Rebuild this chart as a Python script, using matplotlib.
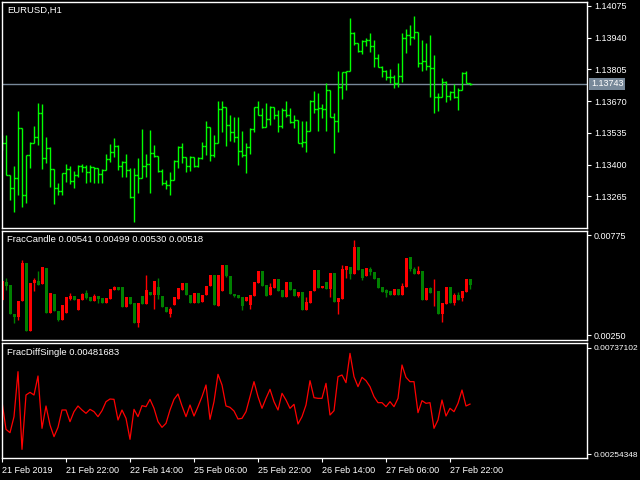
import matplotlib
matplotlib.use("Agg")
import matplotlib.pyplot as plt
import numpy as np

plt.rcParams['font.family'] = ['Liberation Sans', 'DejaVu Sans']
plt.rcParams['font.size'] = 6.5

# EURUSD H1 bars (open, high, low, close)
bar_open = [1.13492, 1.13492, 1.13355, 1.13300, 1.13343, 1.13556, 1.13270, 1.13440, 1.13492, 1.13517,
            1.13620, 1.13428, 1.13470, 1.13381, 1.13300, 1.13287, 1.13364, 1.13381, 1.13330, 1.13355,
            1.13394, 1.13389, 1.13368, 1.13389, 1.13385, 1.13360, 1.13377, 1.13424, 1.13453, 1.13479,
            1.13394, 1.13411, 1.13377, 1.13262, 1.13355, 1.13343, 1.13394, 1.13402, 1.13449, 1.13436,
            1.13372, 1.13321, 1.13313, 1.13334, 1.13415, 1.13475, 1.13432, 1.13394, 1.13432, 1.13394,
            1.13428, 1.13479, 1.13560, 1.13440, 1.13492, 1.13637, 1.13645, 1.13568, 1.13539, 1.13517,
            1.13458, 1.13440, 1.13475, 1.13551, 1.13645, 1.13611, 1.13560, 1.13594, 1.13645, 1.13611,
            1.13564, 1.13632, 1.13611, 1.13581, 1.13590, 1.13492, 1.13496, 1.13543, 1.13671, 1.13637,
            1.13641, 1.13637, 1.13717, 1.13602, 1.13585, 1.13730, 1.13794, 1.13798, 1.13960, 1.13918,
            1.13884, 1.13926, 1.13930, 1.13905, 1.13854, 1.13815, 1.13798, 1.13773, 1.13773, 1.13747,
            1.13777, 1.13939, 1.13952, 1.13943, 1.13965, 1.13832, 1.13841, 1.13820, 1.13811, 1.13688,
            1.13688, 1.13752, 1.13692, 1.13709, 1.13688, 1.13717, 1.13790, 1.13747]
bar_high = [1.13526, 1.13526, 1.13355, 1.13394, 1.13628, 1.13556, 1.13440, 1.13496, 1.13564, 1.13662,
            1.13658, 1.13517, 1.13475, 1.13381, 1.13321, 1.13364, 1.13402, 1.13394, 1.13372, 1.13398,
            1.13402, 1.13398, 1.13398, 1.13389, 1.13385, 1.13381, 1.13445, 1.13487, 1.13513, 1.13483,
            1.13415, 1.13445, 1.13385, 1.13385, 1.13428, 1.13551, 1.13445, 1.13547, 1.13483, 1.13436,
            1.13381, 1.13334, 1.13368, 1.13419, 1.13479, 1.13492, 1.13432, 1.13436, 1.13432, 1.13432,
            1.13496, 1.13585, 1.13560, 1.13526, 1.13671, 1.13671, 1.13645, 1.13611, 1.13602, 1.13602,
            1.13543, 1.13492, 1.13556, 1.13645, 1.13671, 1.13641, 1.13662, 1.13649, 1.13645, 1.13632,
            1.13641, 1.13671, 1.13641, 1.13611, 1.13590, 1.13585, 1.13585, 1.13675, 1.13713, 1.13705,
            1.13658, 1.13747, 1.13717, 1.13620, 1.13798, 1.13794, 1.13798, 1.14024, 1.13965, 1.13918,
            1.13930, 1.13939, 1.13960, 1.13930, 1.13871, 1.13820, 1.13803, 1.13807, 1.13781, 1.13832,
            1.13960, 1.13977, 1.13994, 1.14033, 1.13965, 1.13930, 1.13918, 1.13952, 1.13867, 1.13705,
            1.13769, 1.13756, 1.13713, 1.13743, 1.13726, 1.13794, 1.13798, 1.13747]
bar_low = [1.13462, 1.13355, 1.13249, 1.13198, 1.13270, 1.13219, 1.13236, 1.13385, 1.13492, 1.13483,
           1.13381, 1.13406, 1.13304, 1.13232, 1.13270, 1.13270, 1.13326, 1.13317, 1.13300, 1.13347,
           1.13368, 1.13321, 1.13326, 1.13321, 1.13321, 1.13321, 1.13377, 1.13411, 1.13432, 1.13377,
           1.13347, 1.13347, 1.13257, 1.13155, 1.13279, 1.13343, 1.13347, 1.13279, 1.13432, 1.13368,
           1.13313, 1.13296, 1.13270, 1.13334, 1.13385, 1.13406, 1.13368, 1.13372, 1.13389, 1.13389,
           1.13424, 1.13440, 1.13415, 1.13432, 1.13492, 1.13539, 1.13479, 1.13500, 1.13496, 1.13398,
           1.13432, 1.13364, 1.13445, 1.13539, 1.13611, 1.13556, 1.13560, 1.13568, 1.13594, 1.13539,
           1.13556, 1.13602, 1.13577, 1.13556, 1.13492, 1.13475, 1.13453, 1.13543, 1.13620, 1.13543,
           1.13598, 1.13543, 1.13602, 1.13449, 1.13539, 1.13679, 1.13717, 1.13798, 1.13909, 1.13879,
           1.13871, 1.13905, 1.13879, 1.13815, 1.13815, 1.13773, 1.13760, 1.13747, 1.13726, 1.13730,
           1.13752, 1.13875, 1.13909, 1.13935, 1.13815, 1.13798, 1.13803, 1.13688, 1.13620, 1.13628,
           1.13688, 1.13666, 1.13675, 1.13683, 1.13632, 1.13717, 1.13747, 1.13739]
bar_close = [1.13492, 1.13355, 1.13300, 1.13343, 1.13556, 1.13270, 1.13440, 1.13492, 1.13517, 1.13620,
             1.13428, 1.13470, 1.13381, 1.13300, 1.13287, 1.13364, 1.13381, 1.13330, 1.13355, 1.13394,
             1.13389, 1.13368, 1.13389, 1.13385, 1.13360, 1.13377, 1.13424, 1.13453, 1.13479, 1.13394,
             1.13411, 1.13377, 1.13262, 1.13355, 1.13343, 1.13394, 1.13402, 1.13449, 1.13436, 1.13372,
             1.13321, 1.13313, 1.13334, 1.13415, 1.13475, 1.13432, 1.13394, 1.13432, 1.13394, 1.13428,
             1.13479, 1.13560, 1.13440, 1.13492, 1.13637, 1.13645, 1.13568, 1.13539, 1.13517, 1.13458,
             1.13440, 1.13475, 1.13551, 1.13645, 1.13611, 1.13560, 1.13594, 1.13645, 1.13611, 1.13564,
             1.13632, 1.13611, 1.13581, 1.13590, 1.13492, 1.13496, 1.13543, 1.13671, 1.13637, 1.13641,
             1.13637, 1.13717, 1.13602, 1.13585, 1.13730, 1.13794, 1.13798, 1.13960, 1.13918, 1.13884,
             1.13926, 1.13930, 1.13905, 1.13854, 1.13815, 1.13798, 1.13773, 1.13773, 1.13747, 1.13777,
             1.13939, 1.13952, 1.13943, 1.13965, 1.13832, 1.13841, 1.13820, 1.13811, 1.13688, 1.13688,
             1.13752, 1.13692, 1.13709, 1.13688, 1.13717, 1.13790, 1.13747, 1.13743]
current_price = 1.13743
price_ticks = [1.14075, 1.13940, 1.13805, 1.13670, 1.13535, 1.13400, 1.13265]

# FracCandle indicator (open, high, low, close)
fc_open = [0.00532, 0.00509, 0.00360, 0.00343, 0.00427, 0.00628, 0.00269, 0.00523, 0.00537, 0.00514,
           0.00605, 0.00366, 0.00471, 0.00374, 0.00330, 0.00409, 0.00448, 0.00453, 0.00435, 0.00439,
           0.00465, 0.00444, 0.00427, 0.00456, 0.00439, 0.00418, 0.00444, 0.00492, 0.00502, 0.00488,
           0.00397, 0.00450, 0.00414, 0.00313, 0.00418, 0.00413, 0.00485, 0.00462, 0.00532, 0.00462,
           0.00397, 0.00369, 0.00387, 0.00448, 0.00497, 0.00523, 0.00462, 0.00418, 0.00471, 0.00418,
           0.00462, 0.00509, 0.00567, 0.00409, 0.00567, 0.00619, 0.00561, 0.00467, 0.00453, 0.00444,
           0.00404, 0.00450, 0.00462, 0.00528, 0.00588, 0.00509, 0.00456, 0.00502, 0.00544, 0.00483,
           0.00448, 0.00528, 0.00488, 0.00453, 0.00476, 0.00383, 0.00423, 0.00483, 0.00593, 0.00497,
           0.00509, 0.00492, 0.00576, 0.00423, 0.00444, 0.00597, 0.00614, 0.00570, 0.00712, 0.00593,
           0.00549, 0.00602, 0.00579, 0.00546, 0.00497, 0.00476, 0.00471, 0.00462, 0.00492, 0.00462,
           0.00509, 0.00654, 0.00598, 0.00572, 0.00588, 0.00435, 0.00497, 0.00471, 0.00483, 0.00360,
           0.00418, 0.00502, 0.00418, 0.00462, 0.00435, 0.00483, 0.00544, 0.00514]
fc_high = [0.00532, 0.00549, 0.00511, 0.00360, 0.00427, 0.00645, 0.00628, 0.00523, 0.00549, 0.00584,
           0.00605, 0.00602, 0.00471, 0.00465, 0.00374, 0.00409, 0.00448, 0.00471, 0.00453, 0.00439,
           0.00471, 0.00488, 0.00448, 0.00465, 0.00453, 0.00444, 0.00444, 0.00492, 0.00509, 0.00502,
           0.00502, 0.00450, 0.00448, 0.00418, 0.00418, 0.00456, 0.00567, 0.00474, 0.00535, 0.00549,
           0.00456, 0.00397, 0.00397, 0.00448, 0.00497, 0.00523, 0.00523, 0.00462, 0.00471, 0.00471,
           0.00462, 0.00509, 0.00567, 0.00567, 0.00567, 0.00619, 0.00619, 0.00561, 0.00467, 0.00462,
           0.00450, 0.00450, 0.00462, 0.00528, 0.00588, 0.00588, 0.00514, 0.00523, 0.00544, 0.00544,
           0.00488, 0.00528, 0.00528, 0.00492, 0.00476, 0.00476, 0.00448, 0.00483, 0.00593, 0.00593,
           0.00509, 0.00528, 0.00576, 0.00576, 0.00444, 0.00616, 0.00614, 0.00607, 0.00749, 0.00712,
           0.00597, 0.00602, 0.00607, 0.00581, 0.00549, 0.00502, 0.00492, 0.00483, 0.00492, 0.00492,
           0.00523, 0.00654, 0.00660, 0.00607, 0.00614, 0.00588, 0.00497, 0.00502, 0.00544, 0.00483,
           0.00418, 0.00502, 0.00502, 0.00471, 0.00476, 0.00483, 0.00544, 0.00544]
fc_low = [0.00434, 0.00488, 0.00360, 0.00313, 0.00330, 0.00427, 0.00269, 0.00269, 0.00479, 0.00514,
          0.00518, 0.00366, 0.00366, 0.00374, 0.00322, 0.00330, 0.00366, 0.00435, 0.00435, 0.00383,
          0.00435, 0.00439, 0.00427, 0.00427, 0.00418, 0.00418, 0.00418, 0.00439, 0.00486, 0.00488,
          0.00397, 0.00397, 0.00414, 0.00313, 0.00292, 0.00413, 0.00413, 0.00462, 0.00387, 0.00439,
          0.00397, 0.00369, 0.00345, 0.00406, 0.00439, 0.00488, 0.00462, 0.00418, 0.00418, 0.00418,
          0.00422, 0.00462, 0.00509, 0.00409, 0.00404, 0.00483, 0.00553, 0.00467, 0.00448, 0.00444,
          0.00383, 0.00427, 0.00387, 0.00456, 0.00523, 0.00509, 0.00456, 0.00462, 0.00497, 0.00483,
          0.00448, 0.00448, 0.00488, 0.00453, 0.00448, 0.00383, 0.00383, 0.00418, 0.00479, 0.00497,
          0.00497, 0.00492, 0.00448, 0.00423, 0.00362, 0.00439, 0.00549, 0.00544, 0.00570, 0.00593,
          0.00540, 0.00561, 0.00567, 0.00546, 0.00497, 0.00476, 0.00450, 0.00462, 0.00462, 0.00462,
          0.00462, 0.00502, 0.00588, 0.00572, 0.00572, 0.00435, 0.00435, 0.00471, 0.00404, 0.00360,
          0.00318, 0.00414, 0.00418, 0.00406, 0.00435, 0.00427, 0.00476, 0.00492]
fc_close = [0.00434, 0.00527, 0.00511, 0.00360, 0.00343, 0.00427, 0.00628, 0.00269, 0.00523, 0.00535,
            0.00518, 0.00602, 0.00366, 0.00465, 0.00374, 0.00330, 0.00366, 0.00439, 0.00453, 0.00383,
            0.00435, 0.00471, 0.00448, 0.00427, 0.00453, 0.00444, 0.00418, 0.00439, 0.00488, 0.00502,
            0.00502, 0.00397, 0.00448, 0.00418, 0.00313, 0.00456, 0.00413, 0.00474, 0.00462, 0.00500,
            0.00456, 0.00397, 0.00362, 0.00406, 0.00439, 0.00488, 0.00523, 0.00462, 0.00418, 0.00471,
            0.00422, 0.00462, 0.00509, 0.00567, 0.00404, 0.00483, 0.00619, 0.00561, 0.00467, 0.00462,
            0.00450, 0.00427, 0.00409, 0.00456, 0.00523, 0.00588, 0.00514, 0.00462, 0.00497, 0.00544,
            0.00488, 0.00448, 0.00528, 0.00492, 0.00453, 0.00476, 0.00383, 0.00418, 0.00479, 0.00593,
            0.00497, 0.00528, 0.00492, 0.00576, 0.00423, 0.00439, 0.00593, 0.00607, 0.00570, 0.00712,
            0.00597, 0.00561, 0.00597, 0.00581, 0.00549, 0.00502, 0.00485, 0.00483, 0.00462, 0.00492,
            0.00462, 0.00502, 0.00660, 0.00597, 0.00572, 0.00588, 0.00435, 0.00497, 0.00479, 0.00483,
            0.00360, 0.00414, 0.00502, 0.00418, 0.00462, 0.00444, 0.00476, 0.00544]
fc_label = "FracCandle 0.00541 0.00499 0.00530 0.00518"
fc_ticks = [0.00775, 0.00250]

# FracDiffSingle indicator
fd_values = [0.004927, 0.003667, 0.003515, 0.004244, 0.006293, 0.002756, 0.005231, 0.005352, 0.005231, 0.006096,
             0.003713, 0.004730, 0.003864, 0.003333, 0.003758, 0.004548, 0.004548, 0.004016, 0.004472, 0.004730,
             0.004548, 0.004396, 0.004578, 0.004472, 0.004244, 0.004517, 0.004927, 0.005048, 0.005033, 0.004092,
             0.004548, 0.004168, 0.003212, 0.004578, 0.004244, 0.004745, 0.004699, 0.005033, 0.004624, 0.004016,
             0.003758, 0.003940, 0.004548, 0.005033, 0.005276, 0.004730, 0.004244, 0.004775, 0.004274, 0.004699,
             0.005155, 0.005686, 0.004122, 0.004927, 0.006172, 0.005686, 0.004730, 0.004669, 0.004502, 0.004138,
             0.004168, 0.004472, 0.005155, 0.005838, 0.005155, 0.004624, 0.005079, 0.005489, 0.004927, 0.004548,
             0.005307, 0.005003, 0.004624, 0.004806, 0.003910, 0.004244, 0.004775, 0.005883, 0.005109, 0.005079,
             0.005079, 0.005762, 0.004320, 0.004517, 0.006065, 0.006141, 0.005792, 0.007128, 0.006065, 0.005610,
             0.006035, 0.005883, 0.005610, 0.005155, 0.004881, 0.004881, 0.004699, 0.004927, 0.004699, 0.005079,
             0.006597, 0.006035, 0.005838, 0.005838, 0.004426, 0.004972, 0.004851, 0.004881, 0.003713, 0.004092,
             0.005003, 0.004274, 0.004624, 0.004472, 0.004851, 0.005458, 0.004730, 0.00481683]
fd_label = "FracDiffSingle 0.00481683"
fd_ticks = [0.00737102, 0.00254348]

# time axis
time_tick_idx = [0, 16, 32, 48, 64, 80, 96, 112]
time_tick_labels = ["21 Feb 2019", "21 Feb 22:00", "22 Feb 14:00", "25 Feb 06:00",
                    "25 Feb 22:00", "26 Feb 14:00", "27 Feb 06:00", "27 Feb 22:00"]

W, H = 640, 480
fig = plt.figure(figsize=(6.4, 4.8), dpi=100, facecolor='black')


def make_axes(top_px, bottom_px):
    ax = fig.add_axes([2 / W, (H - bottom_px) / H, 585 / W, (bottom_px - top_px) / H])
    ax.set_facecolor('black')
    for sp in ax.spines.values():
        sp.set_color('white')
        sp.set_linewidth(1)
    ax.set_xlim(0, 585 / 4)
    ax.yaxis.tick_right()
    ax.tick_params(axis='y', colors='white', direction='out', length=3, width=0.8, pad=2, labelsize=6.5)
    ax.tick_params(axis='x', bottom=False, labelbottom=False)
    return ax


idx = np.arange(len(bar_close))

# ---- price panel
ax1 = make_axes(2, 228)
ax1.set_ylim(1.13130, 1.14092)
ax1.axhline(current_price, color='#778899', lw=1)
ax1.vlines(idx, bar_low, bar_high, color='#00ff00', lw=1)
ax1.hlines(bar_open, idx - 0.55, idx, color='#00ff00', lw=1)
ax1.hlines(bar_close, idx, idx + 0.55, color='#00ff00', lw=1)
ax1.set_yticks(price_ticks)
ax1.set_yticklabels(["%.5f" % t for t in price_ticks])
ax1.annotate("%.5f" % current_price, xy=(1, current_price), xycoords=ax1.get_yaxis_transform(),
             xytext=(4, 0), textcoords='offset pixels', ha='left', va='center', color='white',
             fontsize=6.5, bbox=dict(boxstyle='square,pad=0.2', fc='#778899', ec='none'))
ax1.annotate("EURUSD,H1", xy=(0, 1), xycoords='axes fraction', xytext=(5, -4),
             textcoords='offset pixels', ha='left', va='top', color='white', fontsize=6.8)

# ---- FracCandle panel
ax2 = make_axes(231, 340)
ax2.set_ylim(0.002238, 0.00796)
fc_colors = ['#008000' if c > o else '#ff0000' for o, c in zip(fc_open, fc_close)]
ax2.vlines(idx, fc_low, fc_high, colors=fc_colors, lw=1)
body = np.array(fc_close) - np.array(fc_open)
ax2.bar(idx, body, bottom=fc_open, width=0.75, color=fc_colors, linewidth=0)
ax2.set_yticks(fc_ticks)
ax2.set_yticklabels(["%.5f" % t for t in fc_ticks])
ax2.annotate(fc_label, xy=(0, 1), xycoords='axes fraction', xytext=(5, -4),
             textcoords='offset pixels', ha='left', va='top', color='white', fontsize=6.8)

# ---- FracDiffSingle panel
ax3 = make_axes(343, 458)
ax3.set_ylim(0.0023616, 0.0075987)
ax3.plot(idx, fd_values, color='#ff0000', lw=0.9)
ax3.set_yticks(fd_ticks)
ax3.set_yticklabels(["%.8f" % t for t in fd_ticks])
ax3.tick_params(axis='y', labelsize=6.0)
ax3.annotate(fd_label, xy=(0, 1), xycoords='axes fraction', xytext=(5, -5),
             textcoords='offset pixels', ha='left', va='top', color='white', fontsize=6.8)
ax3.tick_params(axis='x', bottom=True, labelbottom=True, colors='white', direction='out',
                length=3, width=0.8, pad=3, labelsize=6.5)
ax3.set_xticks(time_tick_idx)
ax3.set_xticklabels(time_tick_labels)
for lab in ax3.get_xticklabels():
    lab.set_ha('left')

fig.savefig("out.png", dpi=100, facecolor='black')
